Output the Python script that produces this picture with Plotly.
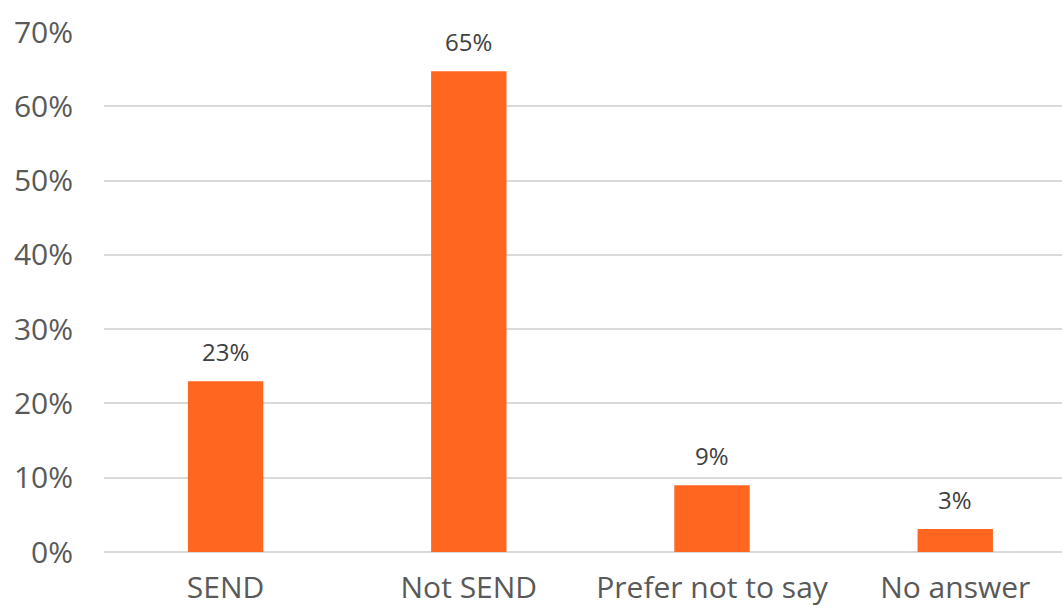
import plotly.graph_objects as go

categories = ["SEND", "Not SEND", "Prefer not to say", "No answer"]
values = [0.23, 0.647, 0.09, 0.031]
tick_vals = [0, 0.1, 0.2, 0.3, 0.4, 0.5, 0.6, 0.7]
tick_text = ["0%", "10%", "20%", "30%", "40%", "50%", "60%", "70%"]

FONT = "Open Sans, Segoe UI, sans-serif"

fig = go.Figure()
fig.add_trace(go.Bar(
    x=categories, y=values, width=0.31,
    marker=dict(color="#FF661F", line=dict(width=0)),
    hoverinfo="skip",
))

for c, v in zip(categories, values):
    fig.add_annotation(
        x=c, y=v, text=f"{round(v*100):.0f}%", showarrow=False,
        yanchor="bottom", yshift=11,
        font=dict(family=FONT, size=24, color="#404040"),
    )

fig.update_layout(
    width=1062, height=610,
    margin=dict(l=104, r=0, t=32, b=58, autoexpand=False),
    paper_bgcolor="white", plot_bgcolor="white",
    showlegend=False,
    font=dict(family=FONT, color="#595959"),
)
fig.update_xaxes(
    range=[-0.5, 3.439], showgrid=False, showline=False, zeroline=False,
    tickfont=dict(family=FONT, size=30, color="#595959"),
    ticks="", ticklabelstandoff=15, automargin=False,
)
fig.update_yaxes(
    range=[0, 0.7], tickvals=tick_vals, ticktext=tick_text,
    showgrid=True, gridcolor="#D9D9D9", gridwidth=2,
    zeroline=True, zerolinecolor="#D9D9D9", zerolinewidth=2,
    showline=False, ticks="",
    tickfont=dict(family=FONT, size=30, color="#595959"),
    ticklabelstandoff=30, automargin=False,
)

fig.write_html("out.html")
